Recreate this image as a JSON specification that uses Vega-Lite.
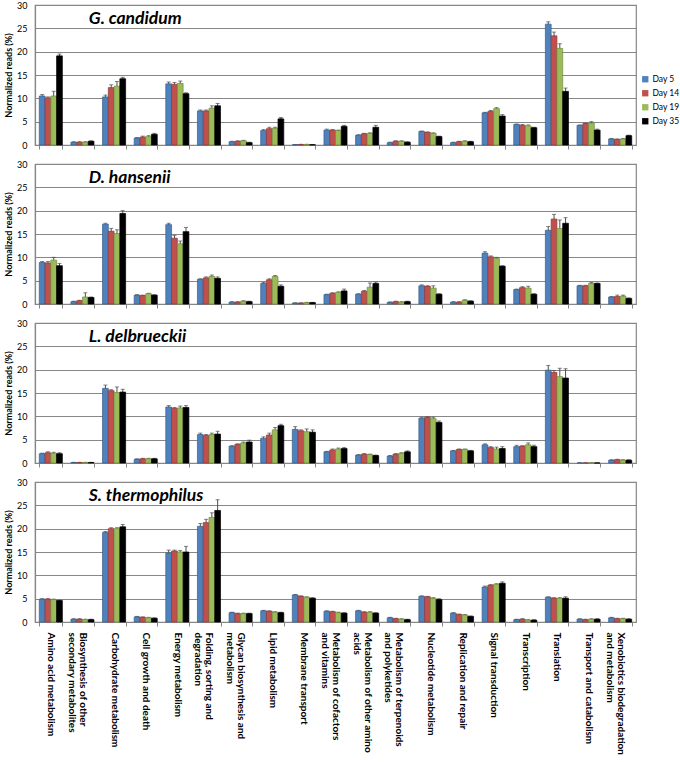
{
  "$schema": "https://vega.github.io/schema/vega-lite/v6.json",
  "padding": {"left": 3, "top": 0, "right": 0, "bottom": 0},
  "background": "white",
  "spacing": 8,
  "datasets": {
    "reads": [
      {"species":"G. candidum","category":"Amino acid metabolism","day":"Day 5","value":10.5,"error":0.3},
      {"species":"G. candidum","category":"Amino acid metabolism","day":"Day 14","value":10.1,"error":0.2},
      {"species":"G. candidum","category":"Amino acid metabolism","day":"Day 19","value":10.5,"error":1.0},
      {"species":"G. candidum","category":"Amino acid metabolism","day":"Day 35","value":19.1,"error":0.4},
      {"species":"G. candidum","category":"Biosynthesis of other secondary metabolites","day":"Day 5","value":0.6,"error":0.1},
      {"species":"G. candidum","category":"Biosynthesis of other secondary metabolites","day":"Day 14","value":0.6,"error":0.1},
      {"species":"G. candidum","category":"Biosynthesis of other secondary metabolites","day":"Day 19","value":0.6,"error":0.1},
      {"species":"G. candidum","category":"Biosynthesis of other secondary metabolites","day":"Day 35","value":0.8,"error":0.1},
      {"species":"G. candidum","category":"Carbohydrate metabolism","day":"Day 5","value":10.3,"error":0.4},
      {"species":"G. candidum","category":"Carbohydrate metabolism","day":"Day 14","value":12.3,"error":0.6},
      {"species":"G. candidum","category":"Carbohydrate metabolism","day":"Day 19","value":12.6,"error":1.0},
      {"species":"G. candidum","category":"Carbohydrate metabolism","day":"Day 35","value":14.2,"error":0.3},
      {"species":"G. candidum","category":"Cell growth and death","day":"Day 5","value":1.5,"error":0.1},
      {"species":"G. candidum","category":"Cell growth and death","day":"Day 14","value":1.7,"error":0.2},
      {"species":"G. candidum","category":"Cell growth and death","day":"Day 19","value":1.8,"error":0.2},
      {"species":"G. candidum","category":"Cell growth and death","day":"Day 35","value":2.3,"error":0.2},
      {"species":"G. candidum","category":"Energy metabolism","day":"Day 5","value":13.1,"error":0.4},
      {"species":"G. candidum","category":"Energy metabolism","day":"Day 14","value":13.0,"error":0.4},
      {"species":"G. candidum","category":"Energy metabolism","day":"Day 19","value":13.2,"error":0.5},
      {"species":"G. candidum","category":"Energy metabolism","day":"Day 35","value":11.0,"error":0.2},
      {"species":"G. candidum","category":"Folding, sorting and degradation","day":"Day 5","value":7.3,"error":0.2},
      {"species":"G. candidum","category":"Folding, sorting and degradation","day":"Day 14","value":7.3,"error":0.2},
      {"species":"G. candidum","category":"Folding, sorting and degradation","day":"Day 19","value":7.9,"error":0.5},
      {"species":"G. candidum","category":"Folding, sorting and degradation","day":"Day 35","value":8.4,"error":0.5},
      {"species":"G. candidum","category":"Glycan biosynthesis and metabolism","day":"Day 5","value":0.7,"error":0.1},
      {"species":"G. candidum","category":"Glycan biosynthesis and metabolism","day":"Day 14","value":0.8,"error":0.1},
      {"species":"G. candidum","category":"Glycan biosynthesis and metabolism","day":"Day 19","value":0.9,"error":0.1},
      {"species":"G. candidum","category":"Glycan biosynthesis and metabolism","day":"Day 35","value":0.5,"error":0.1},
      {"species":"G. candidum","category":"Lipid metabolism","day":"Day 5","value":3.1,"error":0.2},
      {"species":"G. candidum","category":"Lipid metabolism","day":"Day 14","value":3.5,"error":0.3},
      {"species":"G. candidum","category":"Lipid metabolism","day":"Day 19","value":3.6,"error":0.2},
      {"species":"G. candidum","category":"Lipid metabolism","day":"Day 35","value":5.6,"error":0.3},
      {"species":"G. candidum","category":"Membrane transport","day":"Day 5","value":0.05,"error":0.05},
      {"species":"G. candidum","category":"Membrane transport","day":"Day 14","value":0.1,"error":0.05},
      {"species":"G. candidum","category":"Membrane transport","day":"Day 19","value":0.1,"error":0.05},
      {"species":"G. candidum","category":"Membrane transport","day":"Day 35","value":0.05,"error":0.05},
      {"species":"G. candidum","category":"Metabolism of cofactors and vitamins","day":"Day 5","value":3.2,"error":0.2},
      {"species":"G. candidum","category":"Metabolism of cofactors and vitamins","day":"Day 14","value":3.2,"error":0.1},
      {"species":"G. candidum","category":"Metabolism of cofactors and vitamins","day":"Day 19","value":3.1,"error":0.1},
      {"species":"G. candidum","category":"Metabolism of cofactors and vitamins","day":"Day 35","value":4.0,"error":0.2},
      {"species":"G. candidum","category":"Metabolism of other amino acids","day":"Day 5","value":2.1,"error":0.1},
      {"species":"G. candidum","category":"Metabolism of other amino acids","day":"Day 14","value":2.4,"error":0.1},
      {"species":"G. candidum","category":"Metabolism of other amino acids","day":"Day 19","value":2.5,"error":0.1},
      {"species":"G. candidum","category":"Metabolism of other amino acids","day":"Day 35","value":3.8,"error":0.4},
      {"species":"G. candidum","category":"Metabolism of terpenoids and polyketides","day":"Day 5","value":0.5,"error":0.1},
      {"species":"G. candidum","category":"Metabolism of terpenoids and polyketides","day":"Day 14","value":0.8,"error":0.1},
      {"species":"G. candidum","category":"Metabolism of terpenoids and polyketides","day":"Day 19","value":0.8,"error":0.1},
      {"species":"G. candidum","category":"Metabolism of terpenoids and polyketides","day":"Day 35","value":0.6,"error":0.1},
      {"species":"G. candidum","category":"Nucleotide metabolism","day":"Day 5","value":2.9,"error":0.1},
      {"species":"G. candidum","category":"Nucleotide metabolism","day":"Day 14","value":2.7,"error":0.1},
      {"species":"G. candidum","category":"Nucleotide metabolism","day":"Day 19","value":2.5,"error":0.1},
      {"species":"G. candidum","category":"Nucleotide metabolism","day":"Day 35","value":1.8,"error":0.1},
      {"species":"G. candidum","category":"Replication and repair","day":"Day 5","value":0.5,"error":0.1},
      {"species":"G. candidum","category":"Replication and repair","day":"Day 14","value":0.7,"error":0.1},
      {"species":"G. candidum","category":"Replication and repair","day":"Day 19","value":0.8,"error":0.1},
      {"species":"G. candidum","category":"Replication and repair","day":"Day 35","value":0.7,"error":0.1},
      {"species":"G. candidum","category":"Signal transduction","day":"Day 5","value":6.9,"error":0.1},
      {"species":"G. candidum","category":"Signal transduction","day":"Day 14","value":7.2,"error":0.2},
      {"species":"G. candidum","category":"Signal transduction","day":"Day 19","value":7.8,"error":0.2},
      {"species":"G. candidum","category":"Signal transduction","day":"Day 35","value":6.2,"error":0.3},
      {"species":"G. candidum","category":"Transcription","day":"Day 5","value":4.4,"error":0.1},
      {"species":"G. candidum","category":"Transcription","day":"Day 14","value":4.2,"error":0.2},
      {"species":"G. candidum","category":"Transcription","day":"Day 19","value":4.1,"error":0.2},
      {"species":"G. candidum","category":"Transcription","day":"Day 35","value":3.7,"error":0.1},
      {"species":"G. candidum","category":"Translation","day":"Day 5","value":25.9,"error":0.5},
      {"species":"G. candidum","category":"Translation","day":"Day 14","value":23.4,"error":0.8},
      {"species":"G. candidum","category":"Translation","day":"Day 19","value":20.7,"error":1.0},
      {"species":"G. candidum","category":"Translation","day":"Day 35","value":11.5,"error":0.7},
      {"species":"G. candidum","category":"Transport and catabolism","day":"Day 5","value":4.2,"error":0.1},
      {"species":"G. candidum","category":"Transport and catabolism","day":"Day 14","value":4.6,"error":0.1},
      {"species":"G. candidum","category":"Transport and catabolism","day":"Day 19","value":4.7,"error":0.3},
      {"species":"G. candidum","category":"Transport and catabolism","day":"Day 35","value":3.2,"error":0.2},
      {"species":"G. candidum","category":"Xenobiotics biodegradation and metabolism","day":"Day 5","value":1.3,"error":0.1},
      {"species":"G. candidum","category":"Xenobiotics biodegradation and metabolism","day":"Day 14","value":1.2,"error":0.1},
      {"species":"G. candidum","category":"Xenobiotics biodegradation and metabolism","day":"Day 19","value":1.3,"error":0.1},
      {"species":"G. candidum","category":"Xenobiotics biodegradation and metabolism","day":"Day 35","value":2.0,"error":0.1},

      {"species":"D. hansenii","category":"Amino acid metabolism","day":"Day 5","value":8.9,"error":0.2},
      {"species":"D. hansenii","category":"Amino acid metabolism","day":"Day 14","value":8.8,"error":0.3},
      {"species":"D. hansenii","category":"Amino acid metabolism","day":"Day 19","value":9.4,"error":0.6},
      {"species":"D. hansenii","category":"Amino acid metabolism","day":"Day 35","value":8.2,"error":0.5},
      {"species":"D. hansenii","category":"Biosynthesis of other secondary metabolites","day":"Day 5","value":0.5,"error":0.1},
      {"species":"D. hansenii","category":"Biosynthesis of other secondary metabolites","day":"Day 14","value":0.7,"error":0.1},
      {"species":"D. hansenii","category":"Biosynthesis of other secondary metabolites","day":"Day 19","value":1.5,"error":0.9},
      {"species":"D. hansenii","category":"Biosynthesis of other secondary metabolites","day":"Day 35","value":1.4,"error":0.1},
      {"species":"D. hansenii","category":"Carbohydrate metabolism","day":"Day 5","value":17.1,"error":0.2},
      {"species":"D. hansenii","category":"Carbohydrate metabolism","day":"Day 14","value":15.6,"error":0.6},
      {"species":"D. hansenii","category":"Carbohydrate metabolism","day":"Day 19","value":15.1,"error":0.8},
      {"species":"D. hansenii","category":"Carbohydrate metabolism","day":"Day 35","value":19.4,"error":0.6},
      {"species":"D. hansenii","category":"Cell growth and death","day":"Day 5","value":1.9,"error":0.1},
      {"species":"D. hansenii","category":"Cell growth and death","day":"Day 14","value":1.8,"error":0.1},
      {"species":"D. hansenii","category":"Cell growth and death","day":"Day 19","value":2.2,"error":0.1},
      {"species":"D. hansenii","category":"Cell growth and death","day":"Day 35","value":1.9,"error":0.1},
      {"species":"D. hansenii","category":"Energy metabolism","day":"Day 5","value":17.0,"error":0.3},
      {"species":"D. hansenii","category":"Energy metabolism","day":"Day 14","value":14.1,"error":0.6},
      {"species":"D. hansenii","category":"Energy metabolism","day":"Day 19","value":12.9,"error":0.6},
      {"species":"D. hansenii","category":"Energy metabolism","day":"Day 35","value":15.5,"error":0.9},
      {"species":"D. hansenii","category":"Folding, sorting and degradation","day":"Day 5","value":5.3,"error":0.1},
      {"species":"D. hansenii","category":"Folding, sorting and degradation","day":"Day 14","value":5.6,"error":0.2},
      {"species":"D. hansenii","category":"Folding, sorting and degradation","day":"Day 19","value":5.9,"error":0.3},
      {"species":"D. hansenii","category":"Folding, sorting and degradation","day":"Day 35","value":5.5,"error":0.3},
      {"species":"D. hansenii","category":"Glycan biosynthesis and metabolism","day":"Day 5","value":0.4,"error":0.1},
      {"species":"D. hansenii","category":"Glycan biosynthesis and metabolism","day":"Day 14","value":0.4,"error":0.1},
      {"species":"D. hansenii","category":"Glycan biosynthesis and metabolism","day":"Day 19","value":0.6,"error":0.1},
      {"species":"D. hansenii","category":"Glycan biosynthesis and metabolism","day":"Day 35","value":0.5,"error":0.1},
      {"species":"D. hansenii","category":"Lipid metabolism","day":"Day 5","value":4.4,"error":0.2},
      {"species":"D. hansenii","category":"Lipid metabolism","day":"Day 14","value":5.2,"error":0.2},
      {"species":"D. hansenii","category":"Lipid metabolism","day":"Day 19","value":5.9,"error":0.2},
      {"species":"D. hansenii","category":"Lipid metabolism","day":"Day 35","value":3.8,"error":0.3},
      {"species":"D. hansenii","category":"Membrane transport","day":"Day 5","value":0.2,"error":0.05},
      {"species":"D. hansenii","category":"Membrane transport","day":"Day 14","value":0.2,"error":0.05},
      {"species":"D. hansenii","category":"Membrane transport","day":"Day 19","value":0.3,"error":0.05},
      {"species":"D. hansenii","category":"Membrane transport","day":"Day 35","value":0.3,"error":0.05},
      {"species":"D. hansenii","category":"Metabolism of cofactors and vitamins","day":"Day 5","value":2.0,"error":0.1},
      {"species":"D. hansenii","category":"Metabolism of cofactors and vitamins","day":"Day 14","value":2.3,"error":0.1},
      {"species":"D. hansenii","category":"Metabolism of cofactors and vitamins","day":"Day 19","value":2.5,"error":0.1},
      {"species":"D. hansenii","category":"Metabolism of cofactors and vitamins","day":"Day 35","value":2.8,"error":0.4},
      {"species":"D. hansenii","category":"Metabolism of other amino acids","day":"Day 5","value":2.1,"error":0.1},
      {"species":"D. hansenii","category":"Metabolism of other amino acids","day":"Day 14","value":2.7,"error":0.2},
      {"species":"D. hansenii","category":"Metabolism of other amino acids","day":"Day 19","value":3.6,"error":0.9},
      {"species":"D. hansenii","category":"Metabolism of other amino acids","day":"Day 35","value":4.4,"error":0.3},
      {"species":"D. hansenii","category":"Metabolism of terpenoids and polyketides","day":"Day 5","value":0.35,"error":0.1},
      {"species":"D. hansenii","category":"Metabolism of terpenoids and polyketides","day":"Day 14","value":0.5,"error":0.1},
      {"species":"D. hansenii","category":"Metabolism of terpenoids and polyketides","day":"Day 19","value":0.4,"error":0.1},
      {"species":"D. hansenii","category":"Metabolism of terpenoids and polyketides","day":"Day 35","value":0.5,"error":0.1},
      {"species":"D. hansenii","category":"Nucleotide metabolism","day":"Day 5","value":3.9,"error":0.2},
      {"species":"D. hansenii","category":"Nucleotide metabolism","day":"Day 14","value":3.8,"error":0.1},
      {"species":"D. hansenii","category":"Nucleotide metabolism","day":"Day 19","value":3.4,"error":0.5},
      {"species":"D. hansenii","category":"Nucleotide metabolism","day":"Day 35","value":2.1,"error":0.1},
      {"species":"D. hansenii","category":"Replication and repair","day":"Day 5","value":0.4,"error":0.1},
      {"species":"D. hansenii","category":"Replication and repair","day":"Day 14","value":0.4,"error":0.1},
      {"species":"D. hansenii","category":"Replication and repair","day":"Day 19","value":0.8,"error":0.1},
      {"species":"D. hansenii","category":"Replication and repair","day":"Day 35","value":0.6,"error":0.1},
      {"species":"D. hansenii","category":"Signal transduction","day":"Day 5","value":10.9,"error":0.3},
      {"species":"D. hansenii","category":"Signal transduction","day":"Day 14","value":10.1,"error":0.2},
      {"species":"D. hansenii","category":"Signal transduction","day":"Day 19","value":9.8,"error":0.2},
      {"species":"D. hansenii","category":"Signal transduction","day":"Day 35","value":8.1,"error":0.1},
      {"species":"D. hansenii","category":"Transcription","day":"Day 5","value":3.1,"error":0.1},
      {"species":"D. hansenii","category":"Transcription","day":"Day 14","value":3.5,"error":0.2},
      {"species":"D. hansenii","category":"Transcription","day":"Day 19","value":3.4,"error":0.4},
      {"species":"D. hansenii","category":"Transcription","day":"Day 35","value":2.1,"error":0.1},
      {"species":"D. hansenii","category":"Translation","day":"Day 5","value":15.8,"error":0.8},
      {"species":"D. hansenii","category":"Translation","day":"Day 14","value":18.2,"error":1.0},
      {"species":"D. hansenii","category":"Translation","day":"Day 19","value":16.2,"error":1.8},
      {"species":"D. hansenii","category":"Translation","day":"Day 35","value":17.3,"error":1.2},
      {"species":"D. hansenii","category":"Transport and catabolism","day":"Day 5","value":3.9,"error":0.1},
      {"species":"D. hansenii","category":"Transport and catabolism","day":"Day 14","value":3.9,"error":0.1},
      {"species":"D. hansenii","category":"Transport and catabolism","day":"Day 19","value":4.4,"error":0.2},
      {"species":"D. hansenii","category":"Transport and catabolism","day":"Day 35","value":4.4,"error":0.1},
      {"species":"D. hansenii","category":"Xenobiotics biodegradation and metabolism","day":"Day 5","value":1.5,"error":0.1},
      {"species":"D. hansenii","category":"Xenobiotics biodegradation and metabolism","day":"Day 14","value":1.6,"error":0.3},
      {"species":"D. hansenii","category":"Xenobiotics biodegradation and metabolism","day":"Day 19","value":1.7,"error":0.2},
      {"species":"D. hansenii","category":"Xenobiotics biodegradation and metabolism","day":"Day 35","value":1.2,"error":0.1},

      {"species":"L. delbrueckii","category":"Amino acid metabolism","day":"Day 5","value":2.0,"error":0.1},
      {"species":"L. delbrueckii","category":"Amino acid metabolism","day":"Day 14","value":2.2,"error":0.2},
      {"species":"L. delbrueckii","category":"Amino acid metabolism","day":"Day 19","value":2.1,"error":0.2},
      {"species":"L. delbrueckii","category":"Amino acid metabolism","day":"Day 35","value":2.0,"error":0.2},
      {"species":"L. delbrueckii","category":"Biosynthesis of other secondary metabolites","day":"Day 5","value":0.1,"error":0.05},
      {"species":"L. delbrueckii","category":"Biosynthesis of other secondary metabolites","day":"Day 14","value":0.1,"error":0.05},
      {"species":"L. delbrueckii","category":"Biosynthesis of other secondary metabolites","day":"Day 19","value":0.1,"error":0.05},
      {"species":"L. delbrueckii","category":"Biosynthesis of other secondary metabolites","day":"Day 35","value":0.1,"error":0.05},
      {"species":"L. delbrueckii","category":"Carbohydrate metabolism","day":"Day 5","value":16.0,"error":0.7},
      {"species":"L. delbrueckii","category":"Carbohydrate metabolism","day":"Day 14","value":15.5,"error":0.2},
      {"species":"L. delbrueckii","category":"Carbohydrate metabolism","day":"Day 19","value":15.1,"error":1.2},
      {"species":"L. delbrueckii","category":"Carbohydrate metabolism","day":"Day 35","value":15.2,"error":0.6},
      {"species":"L. delbrueckii","category":"Cell growth and death","day":"Day 5","value":0.8,"error":0.1},
      {"species":"L. delbrueckii","category":"Cell growth and death","day":"Day 14","value":0.9,"error":0.1},
      {"species":"L. delbrueckii","category":"Cell growth and death","day":"Day 19","value":0.9,"error":0.1},
      {"species":"L. delbrueckii","category":"Cell growth and death","day":"Day 35","value":0.9,"error":0.1},
      {"species":"L. delbrueckii","category":"Energy metabolism","day":"Day 5","value":12.0,"error":0.3},
      {"species":"L. delbrueckii","category":"Energy metabolism","day":"Day 14","value":11.7,"error":0.2},
      {"species":"L. delbrueckii","category":"Energy metabolism","day":"Day 19","value":11.8,"error":0.4},
      {"species":"L. delbrueckii","category":"Energy metabolism","day":"Day 35","value":11.9,"error":0.4},
      {"species":"L. delbrueckii","category":"Folding, sorting and degradation","day":"Day 5","value":6.1,"error":0.3},
      {"species":"L. delbrueckii","category":"Folding, sorting and degradation","day":"Day 14","value":5.9,"error":0.2},
      {"species":"L. delbrueckii","category":"Folding, sorting and degradation","day":"Day 19","value":6.1,"error":0.3},
      {"species":"L. delbrueckii","category":"Folding, sorting and degradation","day":"Day 35","value":6.2,"error":0.6},
      {"species":"L. delbrueckii","category":"Glycan biosynthesis and metabolism","day":"Day 5","value":3.6,"error":0.1},
      {"species":"L. delbrueckii","category":"Glycan biosynthesis and metabolism","day":"Day 14","value":4.0,"error":0.1},
      {"species":"L. delbrueckii","category":"Glycan biosynthesis and metabolism","day":"Day 19","value":4.3,"error":0.2},
      {"species":"L. delbrueckii","category":"Glycan biosynthesis and metabolism","day":"Day 35","value":4.5,"error":0.4},
      {"species":"L. delbrueckii","category":"Lipid metabolism","day":"Day 5","value":5.3,"error":0.3},
      {"species":"L. delbrueckii","category":"Lipid metabolism","day":"Day 14","value":6.0,"error":0.4},
      {"species":"L. delbrueckii","category":"Lipid metabolism","day":"Day 19","value":7.1,"error":0.5},
      {"species":"L. delbrueckii","category":"Lipid metabolism","day":"Day 35","value":8.0,"error":0.3},
      {"species":"L. delbrueckii","category":"Membrane transport","day":"Day 5","value":7.2,"error":0.6},
      {"species":"L. delbrueckii","category":"Membrane transport","day":"Day 14","value":6.9,"error":0.2},
      {"species":"L. delbrueckii","category":"Membrane transport","day":"Day 19","value":6.7,"error":0.6},
      {"species":"L. delbrueckii","category":"Membrane transport","day":"Day 35","value":6.6,"error":0.5},
      {"species":"L. delbrueckii","category":"Metabolism of cofactors and vitamins","day":"Day 5","value":2.4,"error":0.1},
      {"species":"L. delbrueckii","category":"Metabolism of cofactors and vitamins","day":"Day 14","value":2.8,"error":0.2},
      {"species":"L. delbrueckii","category":"Metabolism of cofactors and vitamins","day":"Day 19","value":3.0,"error":0.2},
      {"species":"L. delbrueckii","category":"Metabolism of cofactors and vitamins","day":"Day 35","value":3.1,"error":0.2},
      {"species":"L. delbrueckii","category":"Metabolism of other amino acids","day":"Day 5","value":1.7,"error":0.1},
      {"species":"L. delbrueckii","category":"Metabolism of other amino acids","day":"Day 14","value":1.9,"error":0.1},
      {"species":"L. delbrueckii","category":"Metabolism of other amino acids","day":"Day 19","value":1.8,"error":0.1},
      {"species":"L. delbrueckii","category":"Metabolism of other amino acids","day":"Day 35","value":1.6,"error":0.1},
      {"species":"L. delbrueckii","category":"Metabolism of terpenoids and polyketides","day":"Day 5","value":1.5,"error":0.1},
      {"species":"L. delbrueckii","category":"Metabolism of terpenoids and polyketides","day":"Day 14","value":1.9,"error":0.1},
      {"species":"L. delbrueckii","category":"Metabolism of terpenoids and polyketides","day":"Day 19","value":2.1,"error":0.1},
      {"species":"L. delbrueckii","category":"Metabolism of terpenoids and polyketides","day":"Day 35","value":2.4,"error":0.2},
      {"species":"L. delbrueckii","category":"Nucleotide metabolism","day":"Day 5","value":9.6,"error":0.2},
      {"species":"L. delbrueckii","category":"Nucleotide metabolism","day":"Day 14","value":9.8,"error":0.1},
      {"species":"L. delbrueckii","category":"Nucleotide metabolism","day":"Day 19","value":9.5,"error":0.3},
      {"species":"L. delbrueckii","category":"Nucleotide metabolism","day":"Day 35","value":8.7,"error":0.3},
      {"species":"L. delbrueckii","category":"Replication and repair","day":"Day 5","value":2.6,"error":0.1},
      {"species":"L. delbrueckii","category":"Replication and repair","day":"Day 14","value":2.9,"error":0.1},
      {"species":"L. delbrueckii","category":"Replication and repair","day":"Day 19","value":2.9,"error":0.1},
      {"species":"L. delbrueckii","category":"Replication and repair","day":"Day 35","value":2.6,"error":0.1},
      {"species":"L. delbrueckii","category":"Signal transduction","day":"Day 5","value":3.9,"error":0.2},
      {"species":"L. delbrueckii","category":"Signal transduction","day":"Day 14","value":3.3,"error":0.2},
      {"species":"L. delbrueckii","category":"Signal transduction","day":"Day 19","value":3.0,"error":0.4},
      {"species":"L. delbrueckii","category":"Signal transduction","day":"Day 35","value":3.1,"error":0.4},
      {"species":"L. delbrueckii","category":"Transcription","day":"Day 5","value":3.5,"error":0.3},
      {"species":"L. delbrueckii","category":"Transcription","day":"Day 14","value":3.6,"error":0.1},
      {"species":"L. delbrueckii","category":"Transcription","day":"Day 19","value":3.9,"error":0.4},
      {"species":"L. delbrueckii","category":"Transcription","day":"Day 35","value":3.5,"error":0.3},
      {"species":"L. delbrueckii","category":"Translation","day":"Day 5","value":19.9,"error":1.0},
      {"species":"L. delbrueckii","category":"Translation","day":"Day 14","value":19.4,"error":0.4},
      {"species":"L. delbrueckii","category":"Translation","day":"Day 19","value":18.5,"error":1.8},
      {"species":"L. delbrueckii","category":"Translation","day":"Day 35","value":18.2,"error":2.0},
      {"species":"L. delbrueckii","category":"Transport and catabolism","day":"Day 5","value":0,"error":0},
      {"species":"L. delbrueckii","category":"Transport and catabolism","day":"Day 14","value":0,"error":0},
      {"species":"L. delbrueckii","category":"Transport and catabolism","day":"Day 19","value":0,"error":0},
      {"species":"L. delbrueckii","category":"Transport and catabolism","day":"Day 35","value":0,"error":0},
      {"species":"L. delbrueckii","category":"Xenobiotics biodegradation and metabolism","day":"Day 5","value":0.6,"error":0.1},
      {"species":"L. delbrueckii","category":"Xenobiotics biodegradation and metabolism","day":"Day 14","value":0.7,"error":0.1},
      {"species":"L. delbrueckii","category":"Xenobiotics biodegradation and metabolism","day":"Day 19","value":0.6,"error":0.1},
      {"species":"L. delbrueckii","category":"Xenobiotics biodegradation and metabolism","day":"Day 35","value":0.6,"error":0.1},

      {"species":"S. thermophilus","category":"Amino acid metabolism","day":"Day 5","value":4.9,"error":0.1},
      {"species":"S. thermophilus","category":"Amino acid metabolism","day":"Day 14","value":4.9,"error":0.1},
      {"species":"S. thermophilus","category":"Amino acid metabolism","day":"Day 19","value":4.8,"error":0.1},
      {"species":"S. thermophilus","category":"Amino acid metabolism","day":"Day 35","value":4.6,"error":0.1},
      {"species":"S. thermophilus","category":"Biosynthesis of other secondary metabolites","day":"Day 5","value":0.6,"error":0.1},
      {"species":"S. thermophilus","category":"Biosynthesis of other secondary metabolites","day":"Day 14","value":0.6,"error":0.1},
      {"species":"S. thermophilus","category":"Biosynthesis of other secondary metabolites","day":"Day 19","value":0.5,"error":0.1},
      {"species":"S. thermophilus","category":"Biosynthesis of other secondary metabolites","day":"Day 35","value":0.5,"error":0.1},
      {"species":"S. thermophilus","category":"Carbohydrate metabolism","day":"Day 5","value":19.2,"error":0.2},
      {"species":"S. thermophilus","category":"Carbohydrate metabolism","day":"Day 14","value":20.0,"error":0.2},
      {"species":"S. thermophilus","category":"Carbohydrate metabolism","day":"Day 19","value":20.0,"error":0.2},
      {"species":"S. thermophilus","category":"Carbohydrate metabolism","day":"Day 35","value":20.4,"error":0.5},
      {"species":"S. thermophilus","category":"Cell growth and death","day":"Day 5","value":1.1,"error":0.1},
      {"species":"S. thermophilus","category":"Cell growth and death","day":"Day 14","value":1.0,"error":0.1},
      {"species":"S. thermophilus","category":"Cell growth and death","day":"Day 19","value":0.9,"error":0.1},
      {"species":"S. thermophilus","category":"Cell growth and death","day":"Day 35","value":0.8,"error":0.1},
      {"species":"S. thermophilus","category":"Energy metabolism","day":"Day 5","value":14.8,"error":0.6},
      {"species":"S. thermophilus","category":"Energy metabolism","day":"Day 14","value":15.2,"error":0.2},
      {"species":"S. thermophilus","category":"Energy metabolism","day":"Day 19","value":15.0,"error":0.3},
      {"species":"S. thermophilus","category":"Energy metabolism","day":"Day 35","value":15.0,"error":1.2},
      {"species":"S. thermophilus","category":"Folding, sorting and degradation","day":"Day 5","value":20.5,"error":0.6},
      {"species":"S. thermophilus","category":"Folding, sorting and degradation","day":"Day 14","value":21.3,"error":0.7},
      {"species":"S. thermophilus","category":"Folding, sorting and degradation","day":"Day 19","value":22.4,"error":1.0},
      {"species":"S. thermophilus","category":"Folding, sorting and degradation","day":"Day 35","value":23.9,"error":2.3},
      {"species":"S. thermophilus","category":"Glycan biosynthesis and metabolism","day":"Day 5","value":2.0,"error":0.1},
      {"species":"S. thermophilus","category":"Glycan biosynthesis and metabolism","day":"Day 14","value":1.8,"error":0.1},
      {"species":"S. thermophilus","category":"Glycan biosynthesis and metabolism","day":"Day 19","value":1.8,"error":0.1},
      {"species":"S. thermophilus","category":"Glycan biosynthesis and metabolism","day":"Day 35","value":1.8,"error":0.1},
      {"species":"S. thermophilus","category":"Lipid metabolism","day":"Day 5","value":2.4,"error":0.1},
      {"species":"S. thermophilus","category":"Lipid metabolism","day":"Day 14","value":2.3,"error":0.1},
      {"species":"S. thermophilus","category":"Lipid metabolism","day":"Day 19","value":2.1,"error":0.1},
      {"species":"S. thermophilus","category":"Lipid metabolism","day":"Day 35","value":2.0,"error":0.1},
      {"species":"S. thermophilus","category":"Membrane transport","day":"Day 5","value":5.8,"error":0.1},
      {"species":"S. thermophilus","category":"Membrane transport","day":"Day 14","value":5.5,"error":0.1},
      {"species":"S. thermophilus","category":"Membrane transport","day":"Day 19","value":5.3,"error":0.1},
      {"species":"S. thermophilus","category":"Membrane transport","day":"Day 35","value":5.1,"error":0.1},
      {"species":"S. thermophilus","category":"Metabolism of cofactors and vitamins","day":"Day 5","value":2.3,"error":0.1},
      {"species":"S. thermophilus","category":"Metabolism of cofactors and vitamins","day":"Day 14","value":2.2,"error":0.1},
      {"species":"S. thermophilus","category":"Metabolism of cofactors and vitamins","day":"Day 19","value":2.0,"error":0.1},
      {"species":"S. thermophilus","category":"Metabolism of cofactors and vitamins","day":"Day 35","value":1.9,"error":0.1},
      {"species":"S. thermophilus","category":"Metabolism of other amino acids","day":"Day 5","value":2.4,"error":0.1},
      {"species":"S. thermophilus","category":"Metabolism of other amino acids","day":"Day 14","value":2.1,"error":0.1},
      {"species":"S. thermophilus","category":"Metabolism of other amino acids","day":"Day 19","value":2.1,"error":0.1},
      {"species":"S. thermophilus","category":"Metabolism of other amino acids","day":"Day 35","value":1.9,"error":0.1},
      {"species":"S. thermophilus","category":"Metabolism of terpenoids and polyketides","day":"Day 5","value":0.9,"error":0.1},
      {"species":"S. thermophilus","category":"Metabolism of terpenoids and polyketides","day":"Day 14","value":0.7,"error":0.1},
      {"species":"S. thermophilus","category":"Metabolism of terpenoids and polyketides","day":"Day 19","value":0.6,"error":0.1},
      {"species":"S. thermophilus","category":"Metabolism of terpenoids and polyketides","day":"Day 35","value":0.5,"error":0.1},
      {"species":"S. thermophilus","category":"Nucleotide metabolism","day":"Day 5","value":5.5,"error":0.1},
      {"species":"S. thermophilus","category":"Nucleotide metabolism","day":"Day 14","value":5.4,"error":0.1},
      {"species":"S. thermophilus","category":"Nucleotide metabolism","day":"Day 19","value":5.1,"error":0.1},
      {"species":"S. thermophilus","category":"Nucleotide metabolism","day":"Day 35","value":4.8,"error":0.2},
      {"species":"S. thermophilus","category":"Replication and repair","day":"Day 5","value":1.9,"error":0.1},
      {"species":"S. thermophilus","category":"Replication and repair","day":"Day 14","value":1.6,"error":0.1},
      {"species":"S. thermophilus","category":"Replication and repair","day":"Day 19","value":1.5,"error":0.1},
      {"species":"S. thermophilus","category":"Replication and repair","day":"Day 35","value":1.2,"error":0.1},
      {"species":"S. thermophilus","category":"Signal transduction","day":"Day 5","value":7.5,"error":0.2},
      {"species":"S. thermophilus","category":"Signal transduction","day":"Day 14","value":7.9,"error":0.1},
      {"species":"S. thermophilus","category":"Signal transduction","day":"Day 19","value":8.1,"error":0.1},
      {"species":"S. thermophilus","category":"Signal transduction","day":"Day 35","value":8.3,"error":0.3},
      {"species":"S. thermophilus","category":"Transcription","day":"Day 5","value":0.5,"error":0.1},
      {"species":"S. thermophilus","category":"Transcription","day":"Day 14","value":0.6,"error":0.1},
      {"species":"S. thermophilus","category":"Transcription","day":"Day 19","value":0.4,"error":0.1},
      {"species":"S. thermophilus","category":"Transcription","day":"Day 35","value":0.4,"error":0.1},
      {"species":"S. thermophilus","category":"Translation","day":"Day 5","value":5.3,"error":0.1},
      {"species":"S. thermophilus","category":"Translation","day":"Day 14","value":5.1,"error":0.1},
      {"species":"S. thermophilus","category":"Translation","day":"Day 19","value":5.1,"error":0.1},
      {"species":"S. thermophilus","category":"Translation","day":"Day 35","value":5.1,"error":0.3},
      {"species":"S. thermophilus","category":"Transport and catabolism","day":"Day 5","value":0.6,"error":0.1},
      {"species":"S. thermophilus","category":"Transport and catabolism","day":"Day 14","value":0.5,"error":0.1},
      {"species":"S. thermophilus","category":"Transport and catabolism","day":"Day 19","value":0.6,"error":0.1},
      {"species":"S. thermophilus","category":"Transport and catabolism","day":"Day 35","value":0.6,"error":0.1},
      {"species":"S. thermophilus","category":"Xenobiotics biodegradation and metabolism","day":"Day 5","value":0.9,"error":0.1},
      {"species":"S. thermophilus","category":"Xenobiotics biodegradation and metabolism","day":"Day 14","value":0.7,"error":0.1},
      {"species":"S. thermophilus","category":"Xenobiotics biodegradation and metabolism","day":"Day 19","value":0.7,"error":0.1},
      {"species":"S. thermophilus","category":"Xenobiotics biodegradation and metabolism","day":"Day 35","value":0.6,"error":0.1}
    ]
  },
  "vconcat": [
    {
      "width": 601, "height": 140,
      "data": {"name": "reads"},
      "transform": [{"filter": "datum.species == 'G. candidum'"}],
      "encoding": {
        "x": {"field": "category", "type": "nominal", "sort": null, "scale": {"paddingInner": 0.27, "paddingOuter": 0.135}, "axis": {"labels": false, "title": null}},
        "y": {"field": "value", "type": "quantitative", "scale": {"domain": [0, 30], "nice": false}, "axis": {"title": "Normalized reads (%)", "tickCount": 6}}
      },
      "layer": [
        {"mark": {"type": "errorbar", "ticks": {"size": 4}, "color": "#4d4d4d", "thickness": 1, "clip": true},
         "encoding": {"xOffset": {"field": "day", "type": "nominal", "sort": ["Day 5", "Day 14", "Day 19", "Day 35"]}, "yError": {"field": "error"}}},
        {"mark": {"type": "bar", "strokeWidth": 0.7},
         "encoding": {
          "xOffset": {"field": "day", "type": "nominal", "sort": ["Day 5", "Day 14", "Day 19", "Day 35"]},
          "color": {"field": "day", "type": "nominal", "sort": ["Day 5", "Day 14", "Day 19", "Day 35"], "scale": {"domain": ["Day 5", "Day 14", "Day 19", "Day 35"], "range": ["#4F81BD", "#C0504D", "#9BBB59", "#000000"]}, "legend": {"title": null, "orient": "none", "legendX": 606, "legendY": 70}},
          "stroke": {"field": "day", "type": "nominal", "scale": {"domain": ["Day 5", "Day 14", "Day 19", "Day 35"], "range": ["#385D8A", "#8C3836", "#71893F", "#000000"]}, "legend": null}
        }},
        {"transform": [{"filter": "datum.category == 'Amino acid metabolism' && datum.day == 'Day 5'"}],
         "mark": {"type": "text", "align": "left", "baseline": "alphabetic", "dx": 38, "fontSize": 17.5, "fontWeight": "bold", "fontStyle": "italic", "color": "#000000"},
         "encoding": {"y": {"datum": 26}, "text": {"field": "species", "type": "nominal"}}}
      ]
    },
    {
      "width": 601, "height": 140,
      "data": {"name": "reads"},
      "transform": [{"filter": "datum.species == 'D. hansenii'"}],
      "encoding": {
        "x": {"field": "category", "type": "nominal", "sort": null, "scale": {"paddingInner": 0.27, "paddingOuter": 0.135}, "axis": {"labels": false, "title": null}},
        "y": {"field": "value", "type": "quantitative", "scale": {"domain": [0, 30], "nice": false}, "axis": {"title": "Normalized reads (%)", "tickCount": 6}}
      },
      "layer": [
        {"mark": {"type": "errorbar", "ticks": {"size": 4}, "color": "#4d4d4d", "thickness": 1, "clip": true},
         "encoding": {"xOffset": {"field": "day", "type": "nominal", "sort": ["Day 5", "Day 14", "Day 19", "Day 35"]}, "yError": {"field": "error"}}},
        {"mark": {"type": "bar", "strokeWidth": 0.7},
         "encoding": {
          "xOffset": {"field": "day", "type": "nominal", "sort": ["Day 5", "Day 14", "Day 19", "Day 35"]},
          "color": {"field": "day", "type": "nominal", "sort": ["Day 5", "Day 14", "Day 19", "Day 35"], "legend": null},
          "stroke": {"field": "day", "type": "nominal", "legend": null}
        }},
        {"transform": [{"filter": "datum.category == 'Amino acid metabolism' && datum.day == 'Day 5'"}],
         "mark": {"type": "text", "align": "left", "baseline": "alphabetic", "dx": 38, "fontSize": 17.5, "fontWeight": "bold", "fontStyle": "italic", "color": "#000000"},
         "encoding": {"y": {"datum": 26}, "text": {"field": "species", "type": "nominal"}}}
      ]
    },
    {
      "width": 601, "height": 140,
      "data": {"name": "reads"},
      "transform": [{"filter": "datum.species == 'L. delbrueckii'"}],
      "encoding": {
        "x": {"field": "category", "type": "nominal", "sort": null, "scale": {"paddingInner": 0.27, "paddingOuter": 0.135}, "axis": {"labels": false, "title": null}},
        "y": {"field": "value", "type": "quantitative", "scale": {"domain": [0, 30], "nice": false}, "axis": {"title": "Normalized reads (%)", "tickCount": 6}}
      },
      "layer": [
        {"mark": {"type": "errorbar", "ticks": {"size": 4}, "color": "#4d4d4d", "thickness": 1, "clip": true},
         "encoding": {"xOffset": {"field": "day", "type": "nominal", "sort": ["Day 5", "Day 14", "Day 19", "Day 35"]}, "yError": {"field": "error"}}},
        {"mark": {"type": "bar", "strokeWidth": 0.7},
         "encoding": {
          "xOffset": {"field": "day", "type": "nominal", "sort": ["Day 5", "Day 14", "Day 19", "Day 35"]},
          "color": {"field": "day", "type": "nominal", "sort": ["Day 5", "Day 14", "Day 19", "Day 35"], "legend": null},
          "stroke": {"field": "day", "type": "nominal", "legend": null}
        }},
        {"transform": [{"filter": "datum.category == 'Amino acid metabolism' && datum.day == 'Day 5'"}],
         "mark": {"type": "text", "align": "left", "baseline": "alphabetic", "dx": 38, "fontSize": 17.5, "fontWeight": "bold", "fontStyle": "italic", "color": "#000000"},
         "encoding": {"y": {"datum": 26}, "text": {"field": "species", "type": "nominal"}}}
      ]
    },
    {
      "width": 601, "height": 140,
      "data": {"name": "reads"},
      "transform": [{"filter": "datum.species == 'S. thermophilus'"}],
      "encoding": {
        "x": {"field": "category", "type": "nominal", "sort": null, "scale": {"paddingInner": 0.27, "paddingOuter": 0.135}, "axis": {
          "title": null, "labelAngle": 90, "labelAlign": "left", "labelBaseline": "middle", "labelPadding": 6,
          "labelFontWeight": "bold", "labelFontSize": 10, "labelLineHeight": 11, "labelLimit": 200, "labelOverlap": false,
          "labelExpr": "datum.label == 'Biosynthesis of other secondary metabolites' ? ['Biosynthesis of other', 'secondary metabolites'] : datum.label == 'Folding, sorting and degradation' ? ['Folding, sorting and', 'degradation'] : datum.label == 'Glycan biosynthesis and metabolism' ? ['Glycan biosynthesis and', 'metabolism'] : datum.label == 'Metabolism of cofactors and vitamins' ? ['Metabolism of cofactors', 'and vitamins'] : datum.label == 'Metabolism of other amino acids' ? ['Metabolism of other amino', 'acids'] : datum.label == 'Metabolism of terpenoids and polyketides' ? ['Metabolism of terpenoids', 'and polyketides'] : datum.label == 'Xenobiotics biodegradation and metabolism' ? ['Xenobiotics biodegradation', 'and metabolism'] : datum.label"
        }},
        "y": {"field": "value", "type": "quantitative", "scale": {"domain": [0, 30], "nice": false}, "axis": {"title": "Normalized reads (%)", "tickCount": 6}}
      },
      "layer": [
        {"mark": {"type": "errorbar", "ticks": {"size": 4}, "color": "#4d4d4d", "thickness": 1, "clip": true},
         "encoding": {"xOffset": {"field": "day", "type": "nominal", "sort": ["Day 5", "Day 14", "Day 19", "Day 35"]}, "yError": {"field": "error"}}},
        {"mark": {"type": "bar", "strokeWidth": 0.7},
         "encoding": {
          "xOffset": {"field": "day", "type": "nominal", "sort": ["Day 5", "Day 14", "Day 19", "Day 35"]},
          "color": {"field": "day", "type": "nominal", "sort": ["Day 5", "Day 14", "Day 19", "Day 35"], "legend": null},
          "stroke": {"field": "day", "type": "nominal", "legend": null}
        }},
        {"transform": [{"filter": "datum.category == 'Amino acid metabolism' && datum.day == 'Day 5'"}],
         "mark": {"type": "text", "align": "left", "baseline": "alphabetic", "dx": 38, "fontSize": 17.5, "fontWeight": "bold", "fontStyle": "italic", "color": "#000000"},
         "encoding": {"y": {"datum": 26}, "text": {"field": "species", "type": "nominal"}}}
      ]
    }
  ],
  "config": {
    "font": "Lato",
    "view": {"stroke": "#878787", "strokeWidth": 1.2},
    "axis": {"labelFont": "Lato", "titleFont": "Lato", "labelColor": "#000000", "titleColor": "#000000", "domainColor": "#878787", "tickColor": "#878787", "gridColor": "#878787", "gridWidth": 1.2, "domainWidth": 1.2},
    "axisY": {"ticks": false, "labelFontSize": 9, "labelPadding": 8, "titleFontSize": 9, "titleFontWeight": "bold", "titlePadding": 3, "grid": true, "domain": true},
    "axisX": {"grid": false, "tickBand": "extent", "tickSize": 4, "domain": true},
    "legend": {"symbolType": "square", "symbolSize": 40, "labelFontSize": 8.5, "labelOffset": 3, "labelFont": "Lato", "rowPadding": 5, "symbolStrokeWidth": 0}
  }
}
